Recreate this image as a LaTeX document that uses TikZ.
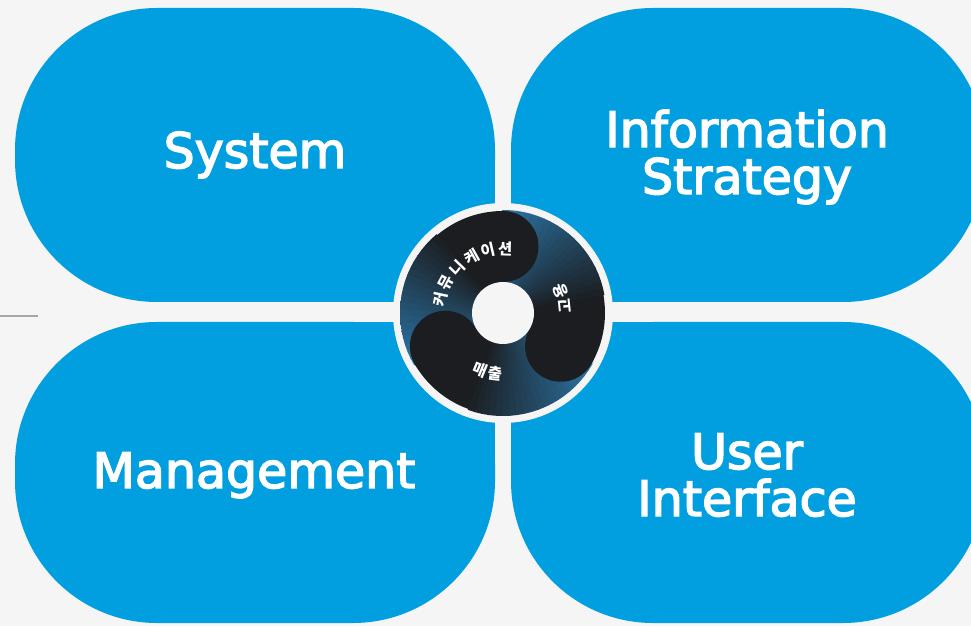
\documentclass[tikz,border=0pt]{standalone}
\usepackage{fontspec}
\newfontfamily\quadfont{DejaVu Sans}[FakeBold=3]
\newfontfamily\ringfont{Noto Sans CJK KR}

\definecolor{quadblue}{HTML}{019EE0}
\definecolor{pagegray}{HTML}{F5F5F5}
\definecolor{swirlblue}{HTML}{3298DC}
\definecolor{lobeblack}{HTML}{1B1D20}
\definecolor{stubgray}{HTML}{A6A6A6}

\begin{document}
\begin{tikzpicture}[x=1pt,y=1pt,
      quad/.style={fill=quadblue,rounded corners=142pt},
      quadlabel/.style={text=white,align=center,font=\quadfont\fontsize{49}{47}\selectfont},
      lobe/.style={fill=lobeblack},
      ringchar/.style={text=white,inner sep=0pt,font=\ringfont\bfseries\fontsize{15.5}{15.5}\selectfont}]
    \clip (0,0) rectangle (971,626);
    \fill[pagegray] (0,0) rectangle (971,626);
    \draw[stubgray,line width=1.5pt] (0,310) -- (38,310);
    % quadrants, corner next to the hub stays square
    \foreach \xa/\ya/\xb/\yb/\cx/\cy in {15/324/495/618/495/324,511/324/985/618/511/324,
                                          15/3/495/304/495/304,511/3/985/304/511/304}{
      \fill[quad] (\xa,\ya) rectangle (\xb,\yb);
      \fill[quadblue] (\cx,\cy) rectangle ({(\xa+\xb)/2},{(\ya+\yb)/2});
    }
    \node[quadlabel,anchor=base] (system) at (255,458) {System};
    \node[quadlabel] (infostrategy) at (747,469) {Information\\Strategy};
    \node[quadlabel,anchor=base] (management) at (254,138) {Management};
    \node[quadlabel] (userinterface) at (747,151) {User\\Interface};
    % hub
    \coordinate (hub) at (503,313);
    \fill[pagegray] (hub) circle (110);
    \fill[lobe] (hub) circle (102);
    \foreach \h in {90,210,330}{
      \foreach \i in {1,...,20}{
        \pgfmathsetmacro\a{\h-84+4*\i}
        \pgfmathtruncatemacro\p{5*\i}
        \pgfmathtruncatemacro\q{2*\i}
        \begin{scope}
          \clip (hub) -- ([shift={(\a:103)}]hub) arc[start angle=\a,end angle=\a+4.6,radius=103] -- cycle;
          \shade[inner color=swirlblue!\q!lobeblack,outer color=swirlblue!\p!lobeblack] (hub) circle (204);
        \end{scope}
      }
    }
    \foreach \h in {90,210,330}
      \fill[lobe] ([shift={(\h:66.5)}]hub) circle (35.5);
    \fill[pagegray] (hub) circle (31);
    % ring words, one glyph per node
    \foreach \ch/\ang [count=\k] in {커/168,뮤/152,니/136,케/119,이/103,션/88}
      \node[ringchar,rotate=\ang-90] (comm\k) at ([shift={(\ang:64)}]hub) {\ch};
    \foreach \ch/\ang [count=\k] in {고/6,용/21}
      \node[ringchar,rotate=\ang+90] (hire\k) at ([shift={(\ang:62)}]hub) {\ch};
    \foreach \ch/\ang [count=\k] in {매/248,출/263}
      \node[ringchar,rotate=\ang+90] (sales\k) at ([shift={(\ang:61)}]hub) {\ch};
\end{tikzpicture}
\end{document}
